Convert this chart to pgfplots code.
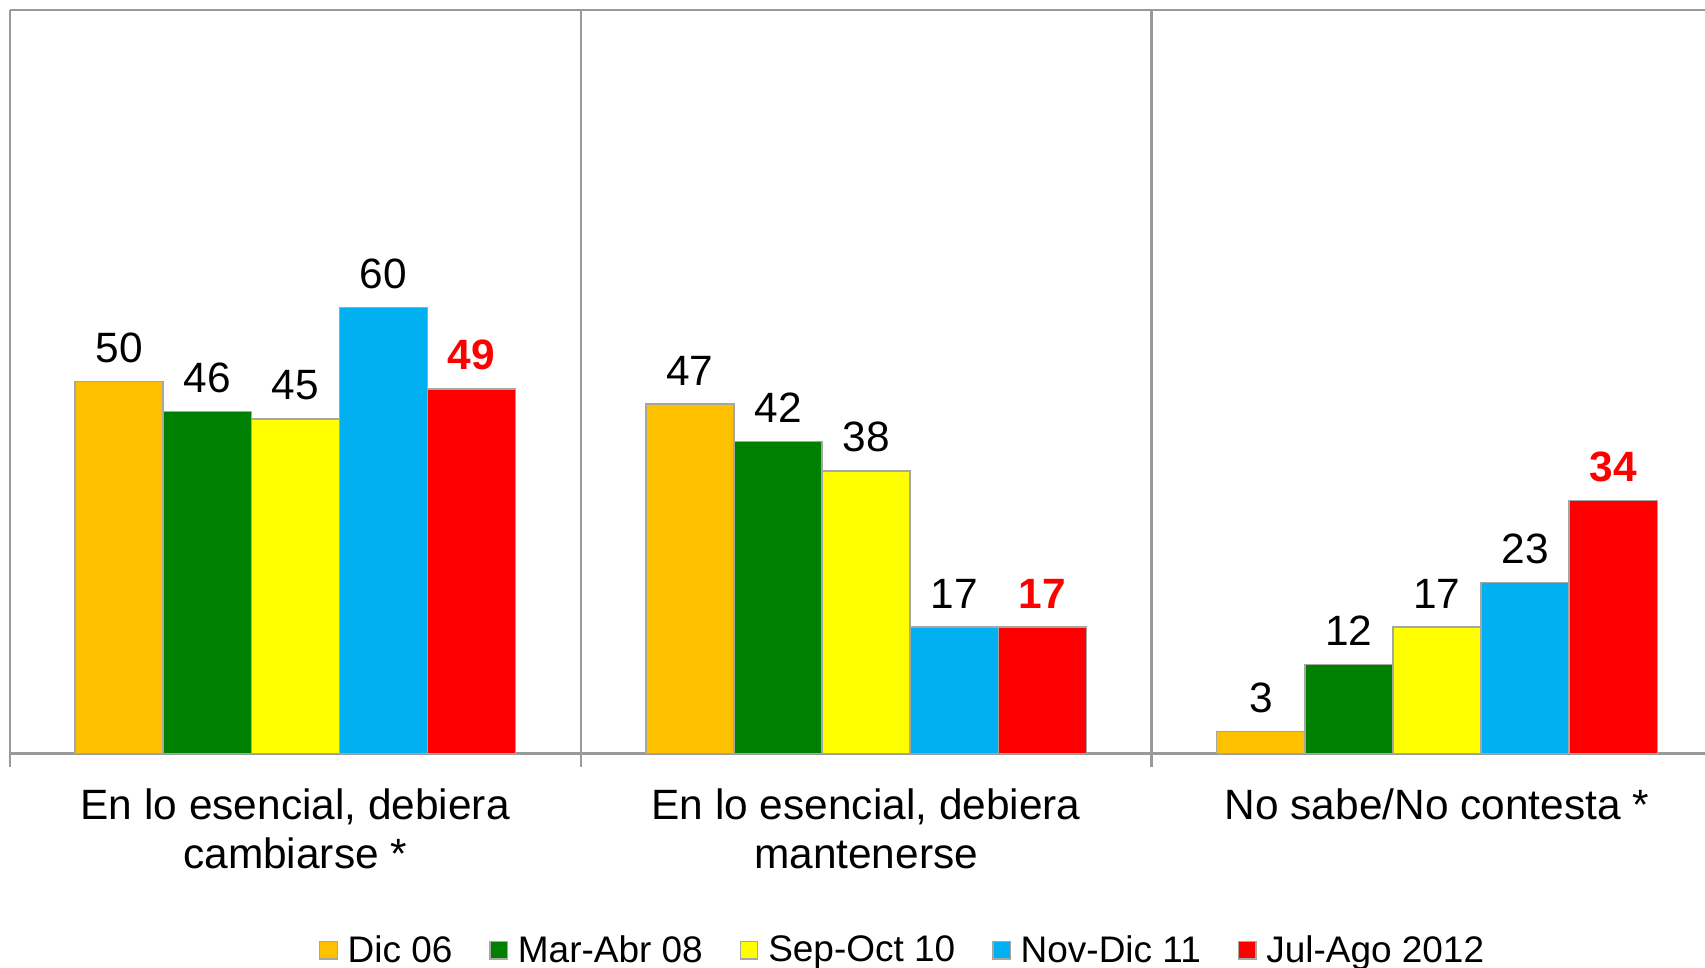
\documentclass[border=0pt]{standalone}
\usepackage{fontspec}
\setmainfont{Liberation Sans}
\usepackage{pgfplots}
\pgfplotsset{compat=1.18}

\definecolor{cOrange}{HTML}{FFC000}
\definecolor{cGreen}{HTML}{008000}
\definecolor{cYellow}{HTML}{FFFF00}
\definecolor{cBlue}{HTML}{00B0F0}
\definecolor{cRed}{HTML}{FF0000}
\definecolor{frame}{HTML}{9A9A9A}
\definecolor{barline}{HTML}{A6A6A6}

\begin{document}
\begin{tikzpicture}
\begin{axis}[
    at={(4.5pt,98.5pt)}, anchor=south west,
    scale only axis,
    width=779.5pt, height=342pt,
    ybar=0pt,
    bar width=40.5pt,
    xmin=-0.5, xmax=2.4695,
    ymin=0, ymax=100,
    axis x line*=bottom,
    axis y line*=left,
    axis line style={frame, line width=1pt},
    ytick=\empty,
    xtick={0,1,2},
    xticklabels={{En lo esencial, debiera\\cambiarse *},{En lo esencial, debiera\\mantenerse},{No sabe/No contesta *}},
    xticklabel style={align=center, font=\fontsize{19.5}{22.5}\selectfont, yshift=-12.5pt},
    major tick length=0pt,
    minor xtick={-0.5,0.5,1.5},
    minor tick length=6pt,
    tick align=outside,
    minor tick style={frame, line width=1pt},
    xminorgrids=true,
    minor grid style={frame, line width=1pt},
    /pgf/number format/assume math mode=true,
    nodes near coords,
    every node near coord/.append style={font=\fontsize{19.5}{22}\selectfont, text=black, yshift=5pt},
    legend columns=5,
    legend style={
        at={(0.529,-0.2647)}, anchor=center,
        draw=none, fill=none,
        font=\fontsize{17}{20}\selectfont,
        nodes={inner xsep=4.5pt},
        /tikz/every even column/.append style={column sep=12.5pt},
    },
    legend image code/.code={\draw[#1, draw=barline, line width=0.6pt] (0pt,-4pt) rectangle (8pt,4pt);},
]

\addplot[fill=cOrange, draw=barline, line width=0.6pt] coordinates {(0,50) (1,47) (2,3)};
\addlegendentry{Dic 06}
\addplot[fill=cGreen, draw=barline, line width=0.6pt] coordinates {(0,46) (1,42) (2,12)};
\addlegendentry{Mar-Abr 08}
\addplot[fill=cYellow, draw=barline, line width=0.6pt] coordinates {(0,45) (1,38) (2,17)};
\addlegendentry{Sep-Oct 10}
\addplot[fill=cBlue, draw=barline, line width=0.6pt] coordinates {(0,60) (1,17) (2,23)};
\addlegendentry{Nov-Dic 11}
\addplot[fill=cRed, draw=barline, line width=0.6pt,
    every node near coord/.append style={font=\fontsize{19.5}{22}\selectfont\bfseries, text=cRed}]
    coordinates {(0,49) (1,17) (2,34)};
\addlegendentry{Jul-Ago 2012}

\draw[frame, line width=1pt] (rel axis cs:0,1) -- (rel axis cs:1,1);
\end{axis}
\pgfresetboundingbox
\path (0,0) rectangle (784pt,445pt);
\end{tikzpicture}
\end{document}
